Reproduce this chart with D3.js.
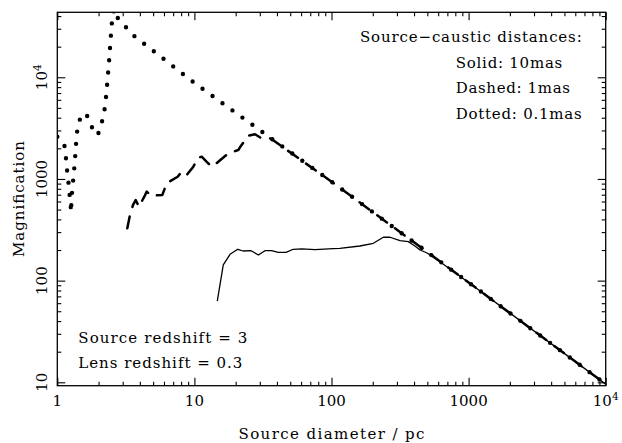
<!DOCTYPE html>
<html><head><meta charset="utf-8">
<script src="https://cdn.jsdelivr.net/npm/d3@7"></script>
<style>html,body{margin:0;padding:0;background:#fff;}svg{display:block;}</style>
</head><body>
<script>
// ---- data ----
const dottedDiam = [1, 1.12, 1.15, 1.17, 1.2, 1.22, 1.25, 1.26, 1.27, 1.29, 1.32, 1.34, 1.36, 1.38, 1.41, 1.5, 1.63, 1.75, 1.97, 2.08, 2.19, 2.25, 2.29, 2.33, 2.37, 2.41, 2.44, 2.48, 2.52, 2.61, 2.71, 3.57, 10, 41.7, 100, 1000, 10000];
const dottedMag  = [2600, 2270, 1750, 1320, 1000, 765, 575, 470, 630, 830, 1120, 1450, 1900, 2540, 3330, 4260, 4370, 3370, 2690, 3330, 4370, 5760, 7480, 9770, 12900, 17000, 22500, 29500, 39400, 47000, 39400, 26000, 8800, 2190, 940, 96, 9.6];

const dashedDiam = [3.24, 3.39, 3.57, 3.73, 3.94, 4.31, 4.49, 4.82, 5.83, 6.28, 7.55, 8.08, 8.79, 9.82, 10.67, 11.3, 12.6, 13.4, 14.5, 17.7, 20.9, 21.9, 24.7, 27.7, 30.6, 36, 100, 1000, 10000];
const dashedMag  = [327, 442, 555, 621, 533, 669, 750, 684, 695, 906, 1052, 1178, 1094, 1321, 1619, 1657, 1426, 1321, 1426, 1787, 1927, 2124, 2666, 2750, 2530, 2500, 940, 96, 9.6];

const solidDiam = [14.69, 16.24, 18.2, 20.7, 22.7, 25.9, 29.3, 32.7, 36.6, 40.9, 46.6, 52.6, 60.6, 75.9, 103, 115, 161, 202, 239, 267, 316, 363, 406, 442, 494, 569, 1000, 10000];
const solidMag  = [63, 142.6, 181.6, 203.4, 195.6, 196.9, 178.6, 196.9, 196.9, 190, 190, 203.4, 205, 201.5, 206, 208, 219, 233, 267, 267, 247, 242, 219, 200, 188, 166, 96, 9.6];

const xMajor = [1, 10, 100, 1000, 10000];
const xTickLabels = ["1", "10", "100", "1000", "10^4"];
const yMajor = [10, 100, 1000, 10000];
const yTickLabels = ["10", "100", "1000", "10^4"];

const legendTitle = "Source\u2212caustic distances:";
const legendLines = ["Solid: 10mas", "Dashed: 1mas", "Dotted: 0.1mas"];
const noteLines = ["Source redshift = 3", "Lens redshift = 0.3"];
const xTitle = "Source diameter / pc";
const yTitle = "Magnification";

// ---- layout ----
const W = 622, H = 443;
const L = 57.3, R = 605.7, T = 12.3, B = 385.7;
const FONT = "'DejaVu Serif', 'Liberation Serif', serif";
const FS = 15;

const x = d3.scaleLog().domain([1, 1e4]).range([L, R]);
const y = d3.scaleLog().domain([9.26, 43550]).range([B, T]);

const svg = d3.select("body").append("svg").attr("width", W).attr("height", H)
  .style("font-family", FONT).style("font-size", FS + "px");

svg.append("defs").append("clipPath").attr("id", "clip")
  .append("rect").attr("x", L).attr("y", T).attr("width", R - L).attr("height", B - T);

// minor tick values
const xMinor = [], yMinor = [];
for (let e = 0; e < 4; e++) for (let m = 2; m <= 9; m++) xMinor.push(m * Math.pow(10, e));
for (let e = 0; e < 5; e++) for (let m = 2; m <= 9; m++) { const v = m * Math.pow(10, e); if (v >= 9.26 && v <= 43550) yMinor.push(v); }

function drawAxis(gen, tx, ty, vals, size) {
  const g = svg.append("g").attr("transform", `translate(${tx},${ty})`)
    .call(gen.tickValues(vals).tickSize(size).tickSizeOuter(0).tickFormat(""));
  g.select(".domain").remove();
  g.selectAll(".tick line").attr("stroke", "#000").attr("stroke-width", 1.1);
}
drawAxis(d3.axisBottom(x), 0, B, xMajor, -8);
drawAxis(d3.axisBottom(x), 0, B, xMinor, -4);
drawAxis(d3.axisTop(x), 0, T, xMajor, -8);
drawAxis(d3.axisTop(x), 0, T, xMinor, -4);
drawAxis(d3.axisLeft(y), L, 0, yMajor, -8);
drawAxis(d3.axisLeft(y), L, 0, yMinor, -4);
drawAxis(d3.axisRight(y), R, 0, yMajor, -8);
drawAxis(d3.axisRight(y), R, 0, yMinor, -4);

// frame
svg.append("rect").attr("x", L).attr("y", T).attr("width", R - L).attr("height", B - T)
  .attr("fill", "none").attr("stroke", "#000").attr("stroke-width", 1.3);

function label(sel, s) {
  const parts = s.split("^");
  sel.append("tspan").text(parts[0]);
  if (parts[1]) sel.append("tspan").attr("dy", -6).attr("font-size", (FS * 0.7) + "px").text(parts[1]);
}

// x tick labels
xMajor.forEach((v, i) => {
  const t = svg.append("text").attr("x", x(v)).attr("y", 406).attr("text-anchor", "middle");
  label(t, xTickLabels[i]);
});
// y tick labels (rotated)
yMajor.forEach((v, i) => {
  const t = svg.append("text").attr("transform", `translate(47,${y(v)}) rotate(-90)`).attr("text-anchor", "middle");
  label(t, yTickLabels[i]);
});

// axis titles
svg.append("text").attr("x", (L + R) / 2).attr("y", 439).attr("text-anchor", "middle")
  .attr("textLength", 186).attr("lengthAdjust", "spacing").text(xTitle);
svg.append("text").attr("transform", `translate(23.5,${(T + B) / 2}) rotate(-90)`).attr("text-anchor", "middle")
  .attr("textLength", 116).attr("lengthAdjust", "spacing").text(yTitle);

// curves
const line = d3.line().x(d => x(d[0])).y(d => y(d[1]));
const plot = svg.append("g").attr("clip-path", "url(#clip)");
plot.append("path").datum(solidDiam.map((d, i) => [d, solidMag[i]])).attr("d", line)
  .attr("fill", "none").attr("stroke", "#000").attr("stroke-width", 1.3).attr("stroke-linejoin", "round");
plot.append("path").datum(dashedDiam.map((d, i) => [d, dashedMag[i]])).attr("d", line)
  .attr("fill", "none").attr("stroke", "#000").attr("stroke-width", 2.5)
  .attr("stroke-dasharray", "12,10").attr("stroke-linecap", "round").attr("stroke-linejoin", "round");
plot.append("path").datum(dottedDiam.map((d, i) => [d, dottedMag[i]])).attr("d", line)
  .attr("fill", "none").attr("stroke", "#000").attr("stroke-width", 4.4)
  .attr("stroke-dasharray", "0,12.3").attr("stroke-linecap", "round");

// legend text
svg.append("text").attr("x", 360).attr("y", 42.3).attr("textLength", 221.7).attr("lengthAdjust", "spacing").text(legendTitle);
const legW = [106.6, 114.3, 126];
const legY = [68.3, 93.3, 119];
legendLines.forEach((s, i) => {
  svg.append("text").attr("x", 455.7).attr("y", legY[i]).attr("textLength", legW[i]).attr("lengthAdjust", "spacing").text(s);
});
const noteW = [169, 164];
const noteY = [342.7, 368.3];
noteLines.forEach((s, i) => {
  svg.append("text").attr("x", 78.3).attr("y", noteY[i]).attr("textLength", noteW[i]).attr("lengthAdjust", "spacing").text(s);
});
</script>
</body></html>
